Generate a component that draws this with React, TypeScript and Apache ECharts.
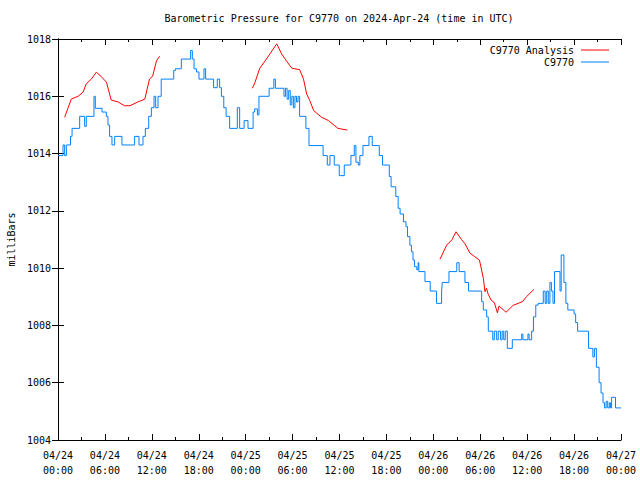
import React, { useEffect, useRef } from "react";
import * as echarts from "echarts";

// hours since 04/24 00:00 UTC
const stationHours = [
  0.0, 0.64, 0.85, 1.07, 1.6, 1.8, 2.77, 3.41, 3.62, 4.6, 4.77, 5.63, 6.18, 6.39, 6.6, 6.9, 7.25, 8.18, 9.8, 10.36,
  10.87, 11.17, 11.6, 11.94, 12.28, 12.49, 12.79, 13.2, 14.8, 15.0, 15.77, 16.96, 17.18, 17.4, 17.7, 18.03, 18.67, 18.88, 19.9, 20.37,
  20.67, 20.9, 21.2, 21.5, 21.95, 22.93, 23.23, 23.8, 24.3, 24.95, 25.15, 25.5, 25.7, 27.0, 27.6, 27.8, 28.9, 29.1, 29.3, 29.5,
  29.7, 29.9, 30.1, 30.3, 30.5, 30.7, 30.9, 31.7, 32.1, 33.9, 34.44, 34.78, 35.33, 35.97, 36.61, 37.46, 37.89, 38.1, 38.4, 38.6,
  39.0, 39.77, 40.19, 41.09, 41.5, 42.37, 42.6, 43.2, 43.5, 43.75, 44.18, 44.5, 44.7, 45.0, 45.2, 45.4, 45.6, 45.88, 46.05, 46.15,
  46.93, 47.6, 48.4, 49.06, 49.15, 50.0, 51.0, 51.3, 52.04, 52.5, 54.18, 54.39, 54.82, 55.03, 55.6, 55.8, 56.1, 56.3, 56.6, 56.8,
  57.0, 57.2, 57.46, 58.1, 59.3, 59.45, 60.1, 60.25, 60.57, 60.8, 61.1, 61.4, 62.06, 62.3, 62.5, 62.7, 62.91, 63.1, 63.3, 63.5,
  64.2, 64.35, 64.7, 64.95, 65.2, 66.0, 66.2, 66.45, 67.85, 68.4, 68.6, 68.85, 69.2, 69.45, 69.7, 69.9, 70.1, 70.3, 70.5, 70.65,
  70.8, 71.3, 72.0,
];
const stationValues = [
  1013.93, 1014.3, 1013.93, 1014.3, 1014.6, 1014.88, 1015.3, 1014.95, 1015.3, 1016.0, 1015.58, 1015.45, 1015.3, 1015.0, 1014.6, 1014.3, 1014.6, 1014.3, 1014.6, 1014.3,
  1014.6, 1014.88, 1015.3, 1015.6, 1016.0, 1015.6, 1016.0, 1016.6, 1016.9, 1016.96, 1017.3, 1017.6, 1017.3, 1016.96, 1016.85, 1016.6, 1016.96, 1016.6, 1016.3, 1016.6,
  1016.3, 1016.0, 1015.6, 1015.3, 1014.88, 1015.6, 1014.88, 1015.15, 1014.88, 1015.45, 1015.56, 1015.35, 1016.0, 1016.28, 1016.6, 1016.28, 1016.0, 1016.28, 1015.9, 1016.2,
  1015.7, 1016.0, 1015.6, 1016.0, 1015.8, 1016.0, 1015.3, 1014.88, 1014.28, 1013.93, 1013.6, 1013.93, 1013.6, 1013.23, 1013.6, 1013.93, 1014.28, 1013.7, 1013.6, 1013.93,
  1014.28, 1014.6, 1014.28, 1013.93, 1013.6, 1013.2, 1012.84, 1012.5, 1012.09, 1011.89, 1011.62, 1011.45, 1011.1, 1010.8, 1010.57, 1010.28, 1010.05, 1009.95, 1010.19, 1009.88,
  1009.53, 1009.2, 1008.77, 1009.2, 1009.5, 1009.88, 1010.19, 1009.88, 1009.5, 1009.2, 1008.83, 1008.54, 1008.3, 1007.8, 1007.5, 1007.8, 1007.5, 1007.8, 1007.5, 1007.8,
  1007.5, 1007.8, 1007.2, 1007.5, 1007.7, 1007.5, 1007.7, 1007.5, 1007.8, 1008.3, 1008.71, 1008.77, 1009.2, 1008.77, 1009.2, 1008.77, 1009.5, 1009.2, 1008.77, 1009.88,
  1009.2, 1010.46, 1009.5, 1008.77, 1008.54, 1008.4, 1008.1, 1007.8, 1007.2, 1006.9, 1007.2, 1006.54, 1006.0, 1005.64, 1005.3, 1005.12, 1005.35, 1005.12, 1005.3, 1005.12,
  1005.49, 1005.12, 1005.12,
];

// analysis, null marks a gap
const analysisHours = [
  0.85, 1.3, 1.7, 2.56, 3.2, 3.6, 4.26, 4.9, 5.5, 6.2, 6.8, 7.7, 8.5, 9.2, 10.2, 11.1, 11.7, 12.1, 12.6, 13.0,
  18.0,
  24.85, 25.2, 25.8, 26.5, 27.1, 27.97, 28.6, 29.2, 29.9, 30.9, 31.4, 31.8, 32.2, 32.7, 33.7, 34.6, 35.8, 37.0,
  43.0,
  48.85, 49.7, 50.4, 50.9, 51.6, 52.0, 52.7, 53.3, 53.9, 54.4, 54.6, 54.8, 55.0, 55.4, 55.8, 56.2, 56.4, 57.3, 58.2, 59.4,
  59.9, 60.87,
];
const analysisValues: (number | null)[] = [
  1015.27, 1015.6, 1015.9, 1016.0, 1016.14, 1016.43, 1016.6, 1016.84, 1016.7, 1016.49, 1015.87, 1015.8, 1015.67, 1015.67, 1015.8, 1015.9, 1016.6, 1016.7, 1017.24, 1017.4,
  null,
  1016.28, 1016.49, 1016.98, 1017.24, 1017.48, 1017.83, 1017.48, 1017.24, 1016.98, 1016.93, 1016.6, 1016.08, 1015.85, 1015.5, 1015.27, 1015.15, 1014.88, 1014.82,
  null,
  1010.31, 1010.8, 1011.0, 1011.27, 1011.0, 1010.87, 1010.52, 1010.4, 1010.28, 1009.64, 1009.18, 1009.3, 1009.1, 1008.88, 1008.8, 1008.44, 1008.68, 1008.46, 1008.7, 1008.83,
  1009.0, 1009.26,
];

const startMonth = "04";
const startDay = 24;
const titleText = "Barometric Pressure for C9770 on 2024-Apr-24 (time in UTC)";
const yName = "milliBars";
const seriesNames = ["C9770 Analysis", "C9770"];

const FONT = "DejaVu Sans Mono";

function fmtHour(h: number): string {
  const day = startDay + Math.floor(h / 24);
  const hh = Math.round(h % 24);
  return `${startMonth}/${String(day).padStart(2, "0")}\n${String(hh).padStart(2, "0")}:00`;
}

export default function App() {
  const ref = useRef<HTMLDivElement>(null);
  useEffect(() => {
    if (!ref.current) return;
    const chart = echarts.init(ref.current, null, { renderer: "svg" });
    const axisLine = { show: true, lineStyle: { color: "#000", width: 1 } };
    const xCommon = {
      type: "value" as const,
      min: 0,
      max: 72,
      interval: 6,
      axisLine,
      axisTick: { show: true, inside: true, length: 6, lineStyle: { color: "#000" } },
      minorTick: { show: true, splitNumber: 2, length: 3, lineStyle: { color: "#000" } },
      splitLine: { show: false },
    };
    const yCommon = {
      type: "value" as const,
      min: 1004,
      max: 1018,
      interval: 2,
      axisLine,
      axisTick: { show: true, inside: true, length: 6, lineStyle: { color: "#000" } },
      splitLine: { show: false },
    };
    const legendCommon = {
      right: 31,
      padding: 0,
      align: "right" as const,
      icon: "rect",
      itemWidth: 28,
      itemHeight: 1,
      textStyle: { fontFamily: FONT, fontSize: 10, color: "#000", padding: [0, 2, 0, 0] },
    };
    chart.setOption({
      animation: false,
      backgroundColor: "#fff",
      title: {
        text: titleText,
        left: 339,
        textAlign: "center",
        top: 13,
        padding: 0,
        textStyle: { fontFamily: FONT, fontSize: 10, fontWeight: "normal", color: "#000" },
      },
      legend: [
        { ...legendCommon, data: [seriesNames[0]], top: 45 },
        { ...legendCommon, data: [seriesNames[1]], top: 57 },
      ],
      grid: { left: 58, right: 19, top: 39, bottom: 40, containLabel: false, outerBoundsMode: "none" },
      xAxis: [
        {
          ...xCommon,
          position: "bottom",
          axisLabel: {
            show: true,
            formatter: (v: number) => fmtHour(v),
            fontFamily: FONT,
            fontSize: 10,
            color: "#000",
            lineHeight: 15,
            margin: 8,
          },
        },
        {
          ...xCommon,
          position: "top",
          axisLabel: { show: false },
        },
      ],
      yAxis: [
        {
          ...yCommon,
          position: "left",
          name: yName,
          nameLocation: "middle",
          nameRotate: 90,
          nameGap: 42,
          nameTextStyle: { fontFamily: FONT, fontSize: 10, color: "#000" },
          axisLabel: {
            show: true,
            fontFamily: FONT,
            fontSize: 10,
            color: "#000",
            margin: 7,
            formatter: (v: number) => String(v),
          },
        },
        {
          ...yCommon,
          position: "right",
          axisLabel: { show: false },
        },
      ],
      series: [
        {
          name: seriesNames[0],
          type: "line",
          xAxisIndex: 0,
          yAxisIndex: 0,
          symbol: "none",
          connectNulls: false,
          lineStyle: { color: "#ff0000", width: 1 },
          itemStyle: { color: "#ff0000" },
          data: analysisHours.map((h, i) => [h, analysisValues[i] === null ? "-" : analysisValues[i]]),
        },
        {
          name: seriesNames[1],
          type: "line",
          xAxisIndex: 0,
          yAxisIndex: 0,
          symbol: "none",
          step: "end",
          lineStyle: { color: "#0080ff", width: 1 },
          itemStyle: { color: "#0080ff" },
          data: stationHours.map((h, i) => [h, stationValues[i]]),
        },
      ],
    });
    return () => chart.dispose();
  }, []);
  return (
    <div
      ref={ref}
      style={{ position: "fixed", left: 0, top: 0, width: 640, height: 480, background: "#fff" }}
    />
  );
}
